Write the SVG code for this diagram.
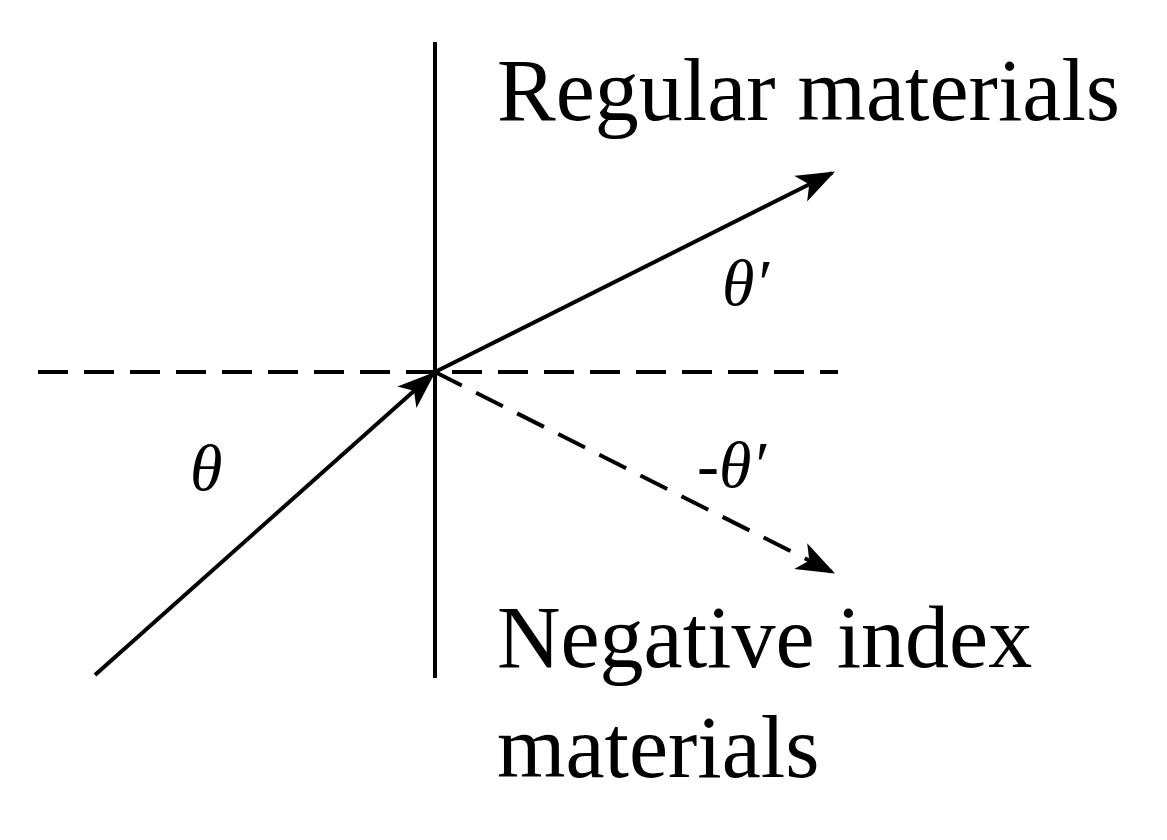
<svg xmlns="http://www.w3.org/2000/svg" width="1167" height="840" viewBox="0 0 1167 840">
<style>
.l{stroke:#000;stroke-width:4;fill:none}
.d{stroke-dasharray:30,16}
.t{font-family:"Liberation Serif",serif;font-size:88px;fill:#000}
.g{font-family:"Liberation Serif",serif;font-style:italic;font-size:66px;fill:#000}
</style>
<defs>
<marker id="b" viewBox="0 0 20 20" refX="18" refY="10" markerWidth="40" markerHeight="40" markerUnits="userSpaceOnUse" orient="auto">
<path d="M2,4 L18,10 L2,16 L6,10 Z" stroke="#000" stroke-width="1.2" fill="#000"/>
</marker>
</defs>
<rect width="1167" height="840" fill="#fff"/>
<g id="connectors">
<line class="l" x1="435" y1="42" x2="435" y2="678"/>
<line class="l d" x1="38" y1="372" x2="838" y2="372"/>
<line class="l" x1="95" y1="675" x2="433" y2="374" marker-end="url(#b)"/>
<line class="l" x1="435" y1="372" x2="832" y2="173" marker-end="url(#b)"/>
<line class="l d" x1="435" y1="372" x2="832" y2="572" marker-end="url(#b)"/>
</g>
<g id="labels">
<text class="t" x="497" y="120">Regular materials</text>
<text class="t" x="497" y="667">Negative index</text>
<text class="t" x="497" y="777">materials</text>
<text class="g" x="190" y="490">θ</text>
<text class="g" x="722" y="305">θ′</text>
<text class="g" x="697" y="487">-θ′</text>
</g>
</svg>
